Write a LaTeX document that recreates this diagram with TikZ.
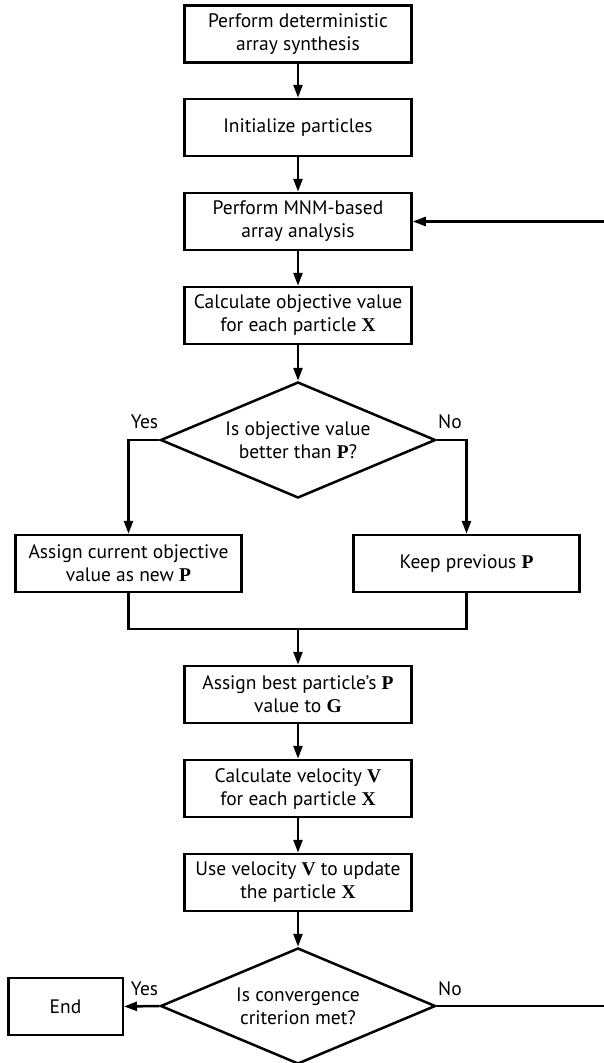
\documentclass[tikz,border=0pt]{standalone}
\usepackage{fontspec}
\newfontfamily\flowfont{PT Sans}
\newfontfamily\vecfont{Liberation Serif}
\newcommand{\bsym}[1]{{\vecfont\bfseries #1}}
\usetikzlibrary{shapes.geometric, arrows.meta}

\begin{document}
\begin{tikzpicture}
[x=1pt, y=-1pt,
block/.style={rectangle, draw=black, line width=2.5pt, inner sep=0pt, minimum width=227pt, minimum height=57pt, align=center, font=\flowfont\fontsize{19.5}{23}\selectfont},
decision/.style={diamond, draw=black, line width=2.5pt, inner sep=0pt, aspect=2.37, minimum width=275pt, minimum height=116pt, align=center, font=\flowfont\fontsize{19.5}{23}\selectfont},
flow/.style={line width=2.5pt, -{Triangle[length=13pt, width=9pt]}},
wire/.style={line width=2.5pt},
tag/.style={font=\flowfont\fontsize{19.5}{23}\selectfont, inner sep=0pt},
]
\useasboundingbox (0,0) rectangle (603,1063);

\node[block] (synth) at (298,34) {Perform deterministic\\array synthesis};
\node[block] (init) at (298,127.5) {Initialize particles};
\node[block] (analysis) at (298,221.5) {Perform MNM-based\\array analysis};
\node[block] (objective) at (298,315.5) {Calculate objective value\\for each particle \bsym{X}};
\node[decision] (better) at (298,440) {Is objective value\\better than \bsym{P}?};
\node[block, minimum width=226pt] (assign) at (128.5,563.5) {Assign current objective\\value as new \bsym{P}};
\node[block, minimum width=226pt] (keep) at (466.5,563.5) {Keep previous \bsym{P}};
\node[block] (best) at (298,694.5) {Assign best particle’s \bsym{P}\\value to \bsym{G}};
\node[block] (velocity) at (298,788.5) {Calculate velocity \bsym{V}\\for each particle \bsym{X}};
\node[block] (update) at (298,882.5) {Use velocity \bsym{V} to update\\the particle \bsym{X}};
\node[decision] (conv) at (298,1006) {Is convergence\\criterion met?};
\node[block, minimum width=114.5pt] (end) at (65.5,1006.5) {End};

\node[tag] (yes1) at (144.5,422) {Yes};
\node[tag] (no1) at (450,422) {No};
\node[tag] (yes2) at (144.5,989) {Yes};
\node[tag] (no2) at (450,989) {No};

\coordinate (join) at (298,629);
\coordinate (loop) at (608,0); % just past the right border

\draw[flow] (synth) -- (init);
\draw[flow] (init) -- (analysis);
\draw[flow] (analysis) -- (objective);
\draw[flow] (objective) -- (better);
\draw[flow] (better.west) -| (assign.north);
\draw[flow] (better.east) -| (keep.north);
\draw[wire] (assign.south) |- (join) -| (keep.south);
\draw[flow] (join) -- (best.north);
\draw[flow] (best) -- (velocity);
\draw[flow] (velocity) -- (update);
\draw[flow] (update) -- (conv);
\draw[flow] (conv.west) -- (end.east);
\draw[flow] (conv.east) -- (conv.east -| loop) |- (analysis.east);
\end{tikzpicture}
\end{document}
